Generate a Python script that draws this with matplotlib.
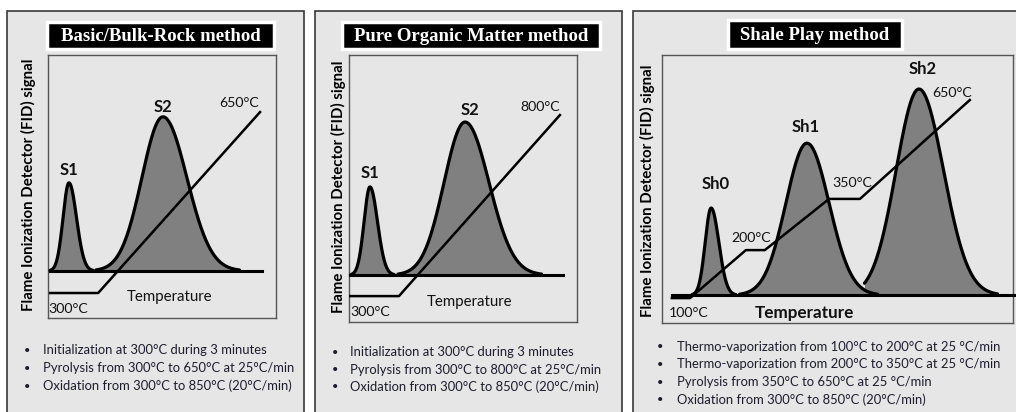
import numpy as np
import matplotlib
matplotlib.use("Agg")
import matplotlib.pyplot as plt
from matplotlib.patches import Rectangle

# ---- data: schematic units, 0-100 across each inner plot box ----
# Basic/Bulk-Rock method
bulk_peaks = ["S1", "S2"]
bulk_center = [9.2, 50.4]
bulk_height = [33.5, 58.6]
bulk_sig_left = [2.6, 9.2]
bulk_sig_right = [3.3, 10.5]
bulk_base = 17.9
bulk_base_x = [0.9, 94.0]
bulk_ramp_x = [1.0, 22.0, 93.0]
bulk_ramp_y = [9.5, 9.5, 78.3]
bulk_temps = ["300°C", "650°C"]
bulk_notes = ["Initialization at 300°C during 3 minutes",
              "Pyrolysis from 300°C to 650°C at 25°C/min",
              "Oxidation from 300°C to 850°C (20°C/min)"]

# Pure Organic Matter method
pom_peaks = ["S1", "S2"]
pom_center = [9.2, 50.9]
pom_height = [33.0, 57.3]
pom_sig_left = [2.6, 9.2]
pom_sig_right = [3.3, 10.5]
pom_base = 17.6
pom_base_x = [0.4, 94.0]
pom_ramp_x = [0.0, 21.9, 92.5]
pom_ramp_y = [9.7, 9.7, 77.5]
pom_temps = ["300°C", "800°C"]
pom_notes = ["Initialization at 300°C during 3 minutes",
             "Pyrolysis from 300°C to 800°C at 25°C/min",
             "Oxidation from 300°C to 850°C (20°C/min)"]

# Shale Play method
shale_peaks = ["Sh0", "Sh1", "Sh2"]
shale_center = [14.0, 41.3, 73.2]
shale_height = [32.5, 56.7, 76.9]
shale_sig_left = [1.7, 6.0, 6.5]
shale_sig_right = [2.2, 6.3, 7.0]
shale_base = 10.4
shale_base_x = [2.8, 101.0]
shale_ramp_x = [2.8, 8.0, 23.9, 29.3, 47.6, 56.4, 87.7]
shale_ramp_y = [9.3, 9.3, 27.2, 27.2, 46.3, 46.3, 83.2]
shale_temps = ["100°C", "200°C", "350°C", "650°C"]
shale_notes = ["Thermo-vaporization from 100°C to 200°C at 25 °C/min",
               "Thermo-vaporization from 200°C to 350°C at 25 °C/min",
               "Pyrolysis from 350°C to 650°C at 25 °C/min",
               "Oxidation from 300°C to 850°C (20°C/min)"]

W, H = 1016, 412
PANEL_BG = "#e6e6e6"
FILL = "#808080"
TXT = "#1c1c2c"
SANS = ["Lato", "DejaVu Sans"]
SERIF = ["Liberation Serif", "DejaVu Serif"]


def frac(x0, y0, x1, y1):
    return [x0 / W, 1 - y1 / H, (x1 - x0) / W, (y1 - y0) / H]


def two_sided(x, c, h, sl, sr):
    s = np.where(x < c, sl, sr)
    return h * np.exp(-0.5 * ((x - c) / s) ** 2)


fig = plt.figure(figsize=(W / 100, H / 100), dpi=100)
bg = fig.add_axes([0, 0, 1, 1])
bg.set_xlim(0, W)
bg.set_ylim(H, 0)
bg.axis("off")

panels = [
    dict(title="Basic/Bulk-Rock method", outer=(7, 11, 304, 430), tbox=(47, 22, 274, 49),
         inner=(48, 55, 276, 318), ylab=(28, 185), bx=(27, 43), by=350, dy=18,
         peaks=bulk_peaks, c=bulk_center, h=bulk_height, sl=bulk_sig_left, sr=bulk_sig_right,
         base=bulk_base, base_x=bulk_base_x, rx=bulk_ramp_x, ry=bulk_ramp_y,
         temps=bulk_temps, notes=bulk_notes,
         peak_pos=[(9.2, 56.3), (50.4, 80.2)], temp_pos=[(8.8, 3.4), (83.8, 81.7)],
         tlab=(53.5, 8.0), tbold=False),
    dict(title="Pure Organic Matter method", outer=(315, 11, 622, 430), tbox=(342, 22, 600, 49),
         inner=(349, 55, 577, 322), ylab=(338, 187), bx=(335, 350), by=352, dy=17.5,
         peaks=pom_peaks, c=pom_center, h=pom_height, sl=pom_sig_left, sr=pom_sig_right,
         base=pom_base, base_x=pom_base_x, rx=pom_ramp_x, ry=pom_ramp_y,
         temps=pom_temps, notes=pom_notes,
         peak_pos=[(9.2, 55.8), (53.0, 79.4)], temp_pos=[(9.2, 3.7), (83.8, 80.5)],
         tlab=(53.0, 7.5), tbold=False),
    dict(title="Shale Play method", outer=(633, 11, 1040, 430), tbox=(728, 20, 902, 49),
         inner=(662, 55, 1013, 323), ylab=(647, 191), bx=(660, 677), by=347, dy=17.5,
         peaks=shale_peaks, c=shale_center, h=shale_height, sl=shale_sig_left, sr=shale_sig_right,
         base=shale_base, base_x=shale_base_x, rx=shale_ramp_x, ry=shale_ramp_y,
         temps=shale_temps, notes=shale_notes,
         peak_pos=[(15.4, 51.9), (41.0, 73.1), (74.4, 94.8)],
         temp_pos=[(7.7, 3.7), (25.4, 31.7), (54.1, 52.2), (82.6, 85.8)],
         tlab=(40.7, 3.7), tbold=True),
]

for p in panels:
    x0, y0, x1, y1 = p["outer"]
    bg.add_patch(Rectangle((x0, y0), x1 - x0, y1 - y0, facecolor=PANEL_BG,
                           edgecolor="#3a3a3a", lw=1.2))
    x0, y0, x1, y1 = p["tbox"]
    bg.add_patch(Rectangle((x0, y0), x1 - x0, y1 - y0, facecolor="black",
                           edgecolor="white", lw=2.5, zorder=3))
    bg.text((x0 + x1) / 2, (y0 + y1) / 2 + 1, p["title"], color="white", fontsize=13.5,
            fontweight="bold", family=SERIF, ha="center", va="center", zorder=4)
    bg.text(p["ylab"][0], p["ylab"][1], "Flame Ionization Detector (FID) signal",
            rotation=90, fontsize=10.8, fontweight="bold", family=SANS,
            ha="center", va="center", color="black")
    for i, note in enumerate(p["notes"]):
        yy = p["by"] + i * p["dy"]
        bg.text(p["bx"][0], yy, "•", fontsize=8, family=SANS, ha="center",
                va="center", color=TXT)
        bg.text(p["bx"][1], yy, note, fontsize=9.4, family=SANS, ha="left",
                va="center", color=TXT)

    ax = fig.add_axes(frac(*p["inner"]))
    ax.set_facecolor(PANEL_BG)
    ax.set_xlim(0, 100)
    ax.set_ylim(0, 100)
    ax.set_xticks([])
    ax.set_yticks([])
    for s in ax.spines.values():
        s.set_color("#555555")
        s.set_linewidth(1.0)

    base = p["base"]
    prev_end = -np.inf
    for c, h, sl, sr in zip(p["c"], p["h"], p["sl"], p["sr"]):
        # each peak drawn on its own; left tail stops where the previous one fades
        lo = max(c - 3.2 * sl, prev_end)
        x = np.linspace(lo, c + 3.2 * sr, 300)
        y = base + two_sided(x, c, h, sl, sr)
        ax.fill_between(x, base, y, color=FILL, lw=0, zorder=2)
        ax.plot(x, y, color="black", lw=2.3, zorder=3, solid_capstyle="round")
        prev_end = c + 2.6 * sr
    ax.plot(p["base_x"], [base, base], color="black", lw=2.2, zorder=3, clip_on=False)
    ax.plot(p["rx"], p["ry"], color="black", lw=1.8, zorder=4)

    for name, (tx, ty) in zip(p["peaks"], p["peak_pos"]):
        ax.text(tx, ty, name, fontsize=12, fontweight="bold", family=SANS,
                ha="center", va="center", color="#111111")
    for lab, (tx, ty) in zip(p["temps"], p["temp_pos"]):
        ax.text(tx, ty, lab, fontsize=10.2, family=SANS, ha="center", va="center",
                color="#111111")
    if p["tbold"]:
        ax.text(*p["tlab"], "Temperature", fontsize=12.3, fontweight="bold", family=SANS,
                ha="center", va="center", color="#111111")
    else:
        ax.text(*p["tlab"], "Temperature", fontsize=10.8, family=SANS, ha="center",
                va="center", color="#111111")

fig.savefig("out.png", dpi=100)
